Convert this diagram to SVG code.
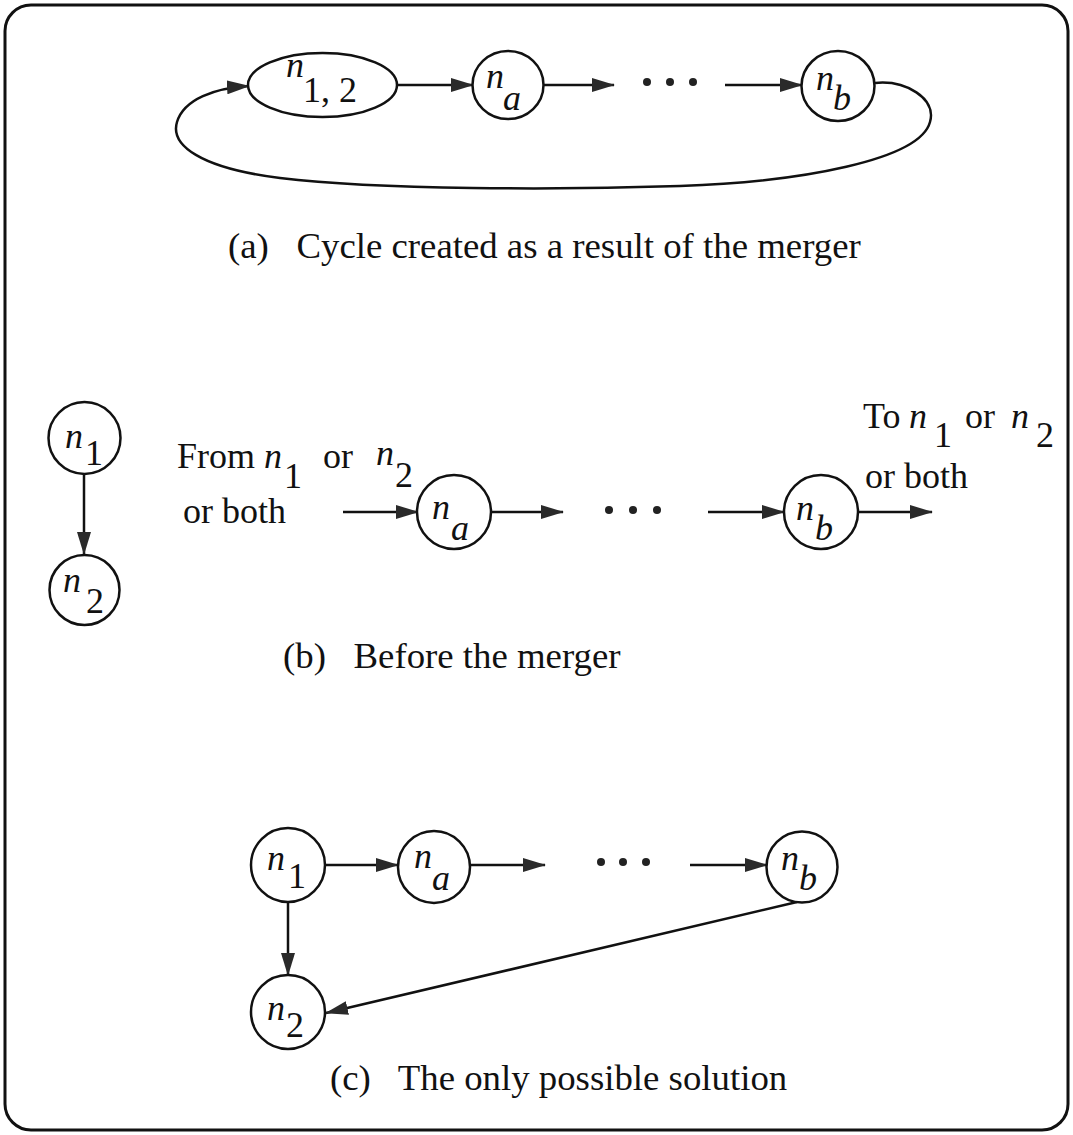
<svg xmlns="http://www.w3.org/2000/svg" width="1073" height="1135" viewBox="0 0 1073 1135">
<style>
  .node { fill: #fff; stroke: #111; stroke-width: 2.5; }
  .edge { fill: none; stroke: #111; stroke-width: 2.5; }
  text { font-family: "Liberation Serif", "Times New Roman", serif; fill: #111; }
  .cap { font-size: 36.8px; }
  .lbl { font-size: 36px; }
  .it { font-style: italic; }
  .dot { fill: #222; }
</style>
<defs>
  <marker id="arr" markerWidth="23" markerHeight="14" refX="22" refY="7" orient="auto" markerUnits="userSpaceOnUse">
    <path d="M0,0 L23,7 L0,14 Z" fill="#2a2a2a"/>
  </marker>
</defs>
<rect x="5" y="5" width="1063" height="1125" rx="26" fill="#fff" stroke="#111" stroke-width="3"/>

<g id="edges">
  <!-- (a) -->
  <line class="edge" x1="397" y1="85" x2="473" y2="85" marker-end="url(#arr)"/>
  <line class="edge" x1="543" y1="85" x2="614" y2="85" marker-end="url(#arr)"/>
  <line class="edge" x1="725" y1="85" x2="802" y2="85" marker-end="url(#arr)"/>
  <path class="edge" d="M875,83 C905,80 937,98 930,122 C920,160 800,182 680,186 C560,190 380,190 280,178 C200,168 170,145 177,122 C184,99 215,88 249,86" marker-end="url(#arr)"/>
  <!-- (b) -->
  <line class="edge" x1="84" y1="475" x2="84" y2="554" marker-end="url(#arr)"/>
  <line class="edge" x1="343" y1="512" x2="418" y2="512" marker-end="url(#arr)"/>
  <line class="edge" x1="491" y1="512" x2="563" y2="512" marker-end="url(#arr)"/>
  <line class="edge" x1="708" y1="512" x2="784" y2="512" marker-end="url(#arr)"/>
  <line class="edge" x1="858" y1="512" x2="932" y2="512" marker-end="url(#arr)"/>
  <!-- (c) -->
  <line class="edge" x1="325" y1="865" x2="398" y2="865" marker-end="url(#arr)"/>
  <line class="edge" x1="470" y1="865" x2="545" y2="865" marker-end="url(#arr)"/>
  <line class="edge" x1="690" y1="865" x2="767" y2="865" marker-end="url(#arr)"/>
  <line class="edge" x1="288" y1="902" x2="288" y2="975" marker-end="url(#arr)"/>
  <line class="edge" x1="797" y1="902" x2="326" y2="1013" marker-end="url(#arr)"/>
</g>

<!-- (a) nodes -->
<g id="a-n12">
  <ellipse class="node" cx="322.5" cy="85" rx="74.5" ry="32"/>
  <text class="lbl" x="286" y="77"><tspan class="it">n</tspan><tspan x="303" y="102">1, 2</tspan></text>
</g>
<g id="a-na">
  <ellipse class="node" cx="508" cy="85" rx="35.5" ry="34"/>
  <text class="lbl" x="486" y="88"><tspan class="it">n</tspan><tspan class="it" x="503" y="110">a</tspan></text>
</g>
<g id="a-dots">
  <circle class="dot" cx="647" cy="82" r="4"/>
  <circle class="dot" cx="670" cy="82" r="4"/>
  <circle class="dot" cx="693" cy="82" r="4"/>
</g>
<g id="a-nb">
  <ellipse class="node" cx="838" cy="86" rx="36.5" ry="35"/>
  <text class="lbl" x="816" y="90"><tspan class="it">n</tspan><tspan class="it" x="833" y="110">b</tspan></text>
</g>
<text class="cap" x="228" y="258" xml:space="preserve">(a)   Cycle created as a result of the merger</text>

<!-- (b) -->
<g id="b-n1">
  <circle class="node" cx="84.5" cy="438" r="36"/>
  <text class="lbl" x="65" y="448"><tspan class="it">n</tspan><tspan x="85" y="465">1</tspan></text>
</g>
<g id="b-n2">
  <circle class="node" cx="84.5" cy="590" r="35"/>
  <text class="lbl" x="63" y="592"><tspan class="it">n</tspan><tspan x="86" y="613">2</tspan></text>
</g>
<text class="lbl" x="177" y="468">From <tspan class="it" x="264">n</tspan><tspan x="284" y="488">1</tspan><tspan x="323" y="468">or</tspan><tspan class="it" x="376" y="465">n</tspan><tspan x="395" y="487">2</tspan></text>
<text class="lbl" x="183" y="523">or both</text>
<g id="b-na">
  <circle class="node" cx="454" cy="512" r="37"/>
  <text class="lbl" x="432" y="519"><tspan class="it">n</tspan><tspan class="it" x="451" y="540">a</tspan></text>
</g>
<g id="b-dots">
  <circle class="dot" cx="609" cy="510" r="4"/>
  <circle class="dot" cx="633" cy="510" r="4"/>
  <circle class="dot" cx="657" cy="510" r="4"/>
</g>
<g id="b-nb">
  <circle class="node" cx="821" cy="512" r="37"/>
  <text class="lbl" x="796" y="520"><tspan class="it">n</tspan><tspan class="it" x="815" y="540">b</tspan></text>
</g>
<text class="lbl" x="863" y="428">To<tspan class="it" x="909" y="428">n</tspan><tspan x="934" y="447">1</tspan><tspan x="965" y="428">or</tspan><tspan class="it" x="1011" y="428">n</tspan><tspan x="1036" y="447">2</tspan></text>
<text class="lbl" x="865" y="488">or both</text>
<text class="cap" x="283" y="668" xml:space="preserve">(b)   Before the merger</text>

<!-- (c) -->
<g id="c-n1">
  <circle class="node" cx="288" cy="865" r="37"/>
  <text class="lbl" x="267" y="870"><tspan class="it">n</tspan><tspan x="288" y="888">1</tspan></text>
</g>
<g id="c-na">
  <circle class="node" cx="434" cy="867" r="36"/>
  <text class="lbl" x="414" y="868"><tspan class="it">n</tspan><tspan class="it" x="432" y="890">a</tspan></text>
</g>
<g id="c-dots">
  <circle class="dot" cx="601" cy="862" r="4"/>
  <circle class="dot" cx="623" cy="862" r="4"/>
  <circle class="dot" cx="646" cy="862" r="4"/>
</g>
<g id="c-nb">
  <circle class="node" cx="802" cy="867" r="35.5"/>
  <text class="lbl" x="781" y="870"><tspan class="it">n</tspan><tspan class="it" x="799" y="890">b</tspan></text>
</g>
<g id="c-n2">
  <circle class="node" cx="288" cy="1012" r="37"/>
  <text class="lbl" x="267" y="1020"><tspan class="it">n</tspan><tspan x="286" y="1037">2</tspan></text>
</g>
<text class="cap" x="330" y="1090" xml:space="preserve">(c)   The only possible solution</text>
</svg>
